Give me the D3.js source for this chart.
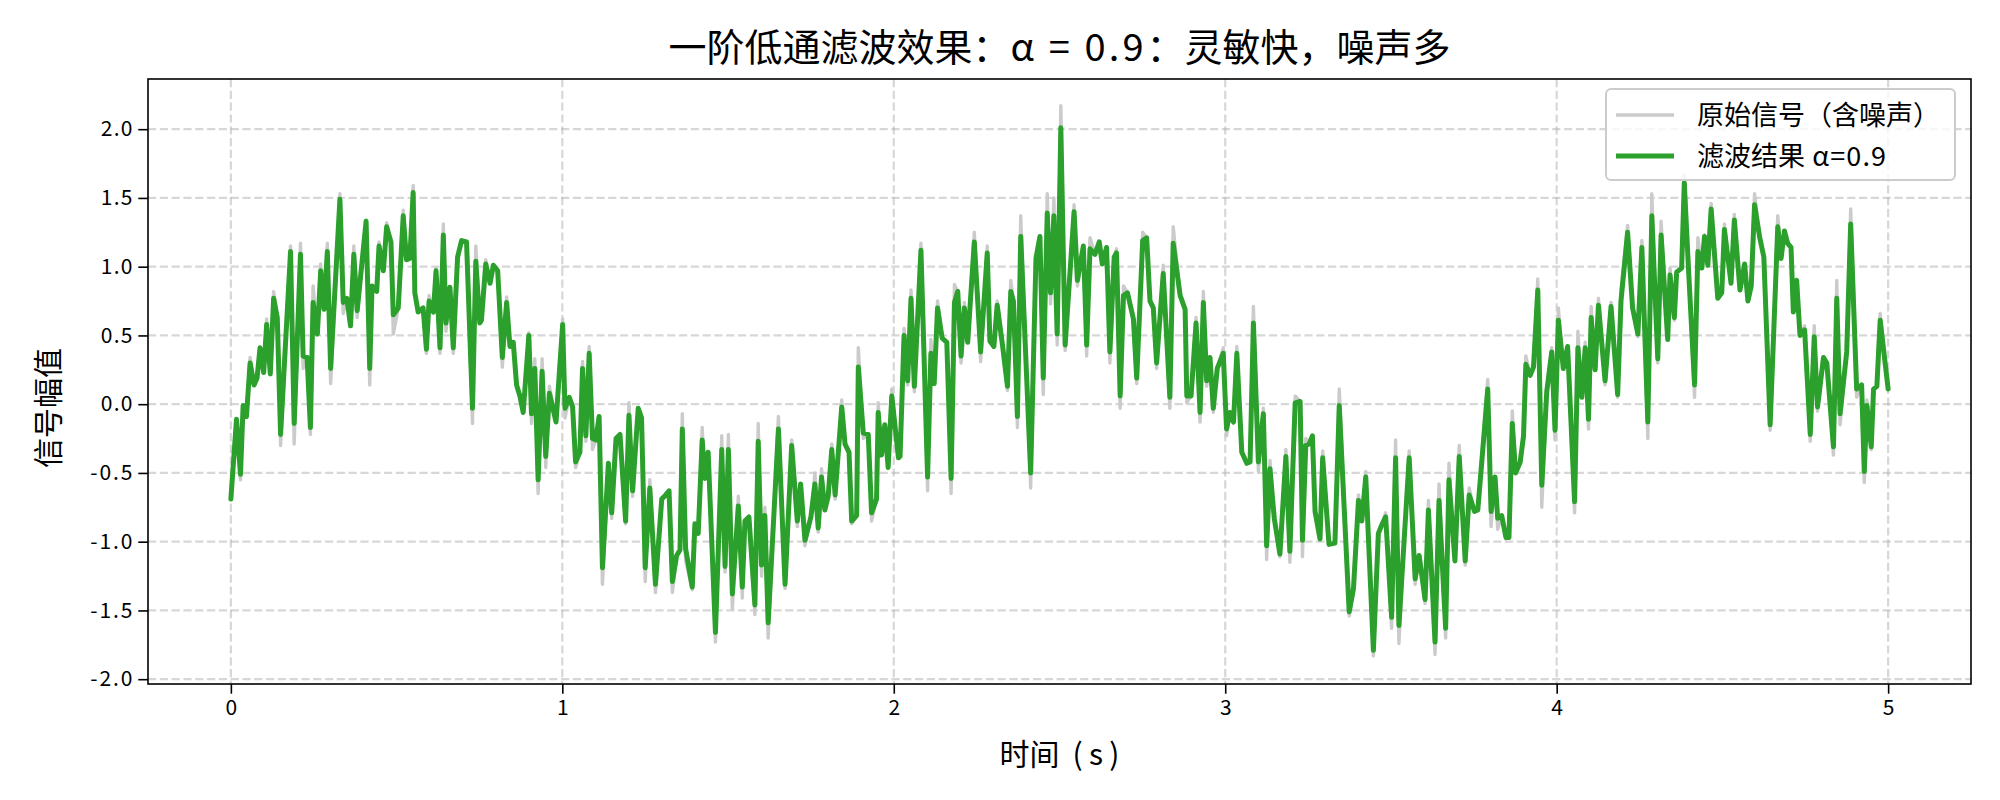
<!DOCTYPE html>
<html><head><meta charset="utf-8">
<script src="https://cdn.jsdelivr.net/npm/d3@7"></script>
<style>
body{margin:0;background:#fff}
svg{display:block}
text{font-family:"Noto Sans CJK SC","Noto Sans",sans-serif;fill:#000}
</style>
</head><body>
<svg id="chart" width="2000" height="800"></svg>
<script>
// ---- data ----
const time = [
0.000,0.017,0.029,0.037,0.047,0.058,0.070,0.079,0.088,0.099,0.108,0.119,0.129,0.140,0.150,0.180,0.191,0.210,0.218,0.230,0.240,0.248,0.261,0.271,0.281,0.291,0.301,0.329,0.339,0.350,0.361,0.371,0.381,
0.408,0.419,0.426,0.440,0.447,0.460,0.470,0.483,0.490,0.505,0.520,0.530,0.540,0.550,0.555,0.565,0.580,0.590,0.598,0.611,0.619,0.631,0.641,0.649,0.661,0.671,0.684,0.696,0.711,0.729,0.739,0.751,0.756,0.769,0.782,0.792,0.805,0.819,
0.832,0.842,0.852,0.862,0.872,0.882,0.899,0.907,0.917,0.927,0.939,0.950,0.961,0.981,1.001,1.008,1.021,1.031,1.040,1.053,1.061,1.071,1.081,1.091,1.101,1.111,1.121,1.139,1.149,1.162,1.174,1.191,1.201,1.212,1.229,1.239,
1.250,1.264,1.281,1.300,1.312,1.322,1.332,1.345,1.355,1.362,1.372,1.392,1.400,1.410,1.422,1.430,1.440,1.462,1.481,1.491,1.501,1.513,1.531,1.543,1.551,1.563,1.581,1.591,1.601,1.611,1.621,1.652,1.672,
1.692,1.709,1.719,1.732,1.750,1.762,1.772,1.782,1.792,1.802,1.813,1.823,1.843,1.853,1.865,1.873,1.888,1.893,1.908,1.923,1.933,1.948,1.953,1.963,1.973,1.983,1.994,2.014,2.019,2.031,2.042,2.052,2.062,2.082,
2.102,2.112,2.122,2.132,2.146,2.160,2.173,2.183,2.193,2.203,2.213,2.223,2.243,2.262,2.282,2.290,2.302,2.312,2.328,2.343,2.353,2.361,2.373,2.383,2.413,2.429,2.441,2.451,2.463,2.473,2.483,2.493,2.504,2.517,
2.544,2.554,2.572,2.582,2.592,2.607,2.620,2.629,2.642,2.652,2.665,2.672,2.683,2.693,2.705,2.723,2.733,2.751,2.763,2.773,2.783,2.793,2.813,2.833,2.843,2.864,2.879,2.884,2.897,2.912,2.924,2.934,
2.944,2.954,2.964,2.976,2.994,3.004,3.014,3.025,3.035,3.050,3.065,3.075,3.085,3.100,3.115,3.125,3.135,3.148,3.165,3.183,3.195,3.211,3.226,3.233,3.243,3.253,3.263,3.271,3.286,3.294,3.313,3.331,3.344,
3.374,3.387,3.402,3.412,3.424,3.447,3.462,3.472,3.484,3.502,3.514,3.524,3.540,3.555,3.573,3.585,3.603,3.613,3.633,3.645,3.665,3.675,3.693,3.706,3.724,3.736,3.752,3.762,3.774,
3.792,3.802,3.814,3.822,3.834,3.847,3.856,3.866,3.876,3.890,3.900,3.907,3.920,3.930,3.943,3.955,3.970,3.985,3.995,4.005,4.020,4.033,4.054,4.064,4.076,4.086,4.096,4.104,4.116,4.126,4.146,4.164,4.184,4.194,
4.214,4.229,4.245,4.257,4.275,4.287,4.305,4.315,4.335,4.342,4.355,4.362,4.377,4.385,4.398,4.416,4.426,4.438,4.446,4.456,4.466,4.486,4.498,4.506,4.526,4.536,4.553,4.567,4.577,4.587,4.597,4.612,4.625,
4.644,4.667,4.677,4.687,4.697,4.707,4.714,4.724,4.734,4.748,4.765,4.777,4.787,4.805,4.815,4.835,4.845,4.855,4.875,4.887,4.905,4.920,4.928,4.936,4.949,4.956,4.966,4.976,5.000
];
const filtered = [
-0.69,-0.11,-0.51,-0.01,-0.09,0.30,0.14,0.19,0.41,0.23,0.58,0.22,0.77,0.63,-0.22,1.11,-0.14,1.09,0.35,0.34,-0.17,0.74,0.51,0.97,0.69,1.11,0.26,1.49,0.74,0.77,0.57,1.09,0.68,
1.33,0.26,0.86,0.82,1.15,0.97,1.29,1.18,0.65,0.70,1.37,1.05,1.06,1.54,0.81,0.67,0.70,0.40,0.75,0.67,0.97,0.41,1.23,0.59,0.85,0.41,1.07,1.19,1.18,-0.03,1.04,0.59,0.61,1.02,0.88,1.01,0.97,0.34,
0.74,0.42,0.45,0.14,0.06,-0.06,0.50,-0.07,0.26,-0.55,0.24,-0.38,0.08,-0.13,0.58,-0.03,0.05,-0.02,-0.42,-0.35,0.26,-0.23,0.37,-0.25,-0.26,-0.09,-1.19,-0.43,-0.79,-0.25,-0.22,-0.85,-0.08,-0.63,-0.03,-0.10,
-1.19,-0.61,-1.31,-0.69,-0.66,-0.63,-1.29,-1.10,-1.06,-0.18,-1.05,-1.33,-0.87,-0.94,-0.26,-0.54,-0.35,-1.66,-0.33,-1.18,-0.33,-1.38,-0.74,-1.33,-0.85,-0.82,-1.46,-0.27,-1.17,-0.81,-1.59,-0.18,-1.31,
-0.30,-0.85,-0.58,-0.99,-0.82,-0.58,-0.90,-0.53,-0.77,-0.67,-0.33,-0.66,-0.02,-0.29,-0.35,-0.85,-0.81,0.27,-0.21,-0.22,-0.79,-0.69,-0.06,-0.37,-0.15,-0.46,0.06,-0.39,-0.38,0.50,0.17,0.77,0.13,1.12,
-0.53,0.37,0.15,0.70,0.48,0.45,-0.54,0.74,0.82,0.35,0.70,0.45,1.18,0.38,1.10,0.46,0.42,0.72,0.43,0.13,0.82,0.75,-0.09,1.22,-0.50,1.06,1.22,0.19,1.39,0.81,1.37,0.51,2.01,0.43,
1.40,0.90,1.15,0.43,1.13,1.09,1.18,1.02,1.14,0.38,1.07,1.10,0.06,0.79,0.81,0.62,0.19,1.19,1.21,0.75,0.70,0.30,0.95,0.05,1.17,0.79,0.69,0.06,0.06,0.59,-0.06,0.74,
0.17,0.34,-0.03,0.26,0.37,-0.18,-0.06,-0.13,0.37,-0.35,-0.43,-0.42,0.59,-0.42,-0.07,-1.03,-0.47,-0.83,-1.09,-0.38,-1.07,0.01,0.02,-0.99,-0.30,-0.29,-0.23,-0.78,-0.98,-0.39,-1.02,-1.01,-0.01,
-1.51,-1.34,-0.70,-0.85,-0.53,-1.79,-0.94,-0.88,-0.82,-1.55,-0.39,-1.61,-0.98,-0.39,-1.27,-1.10,-1.42,-0.77,-1.73,-0.70,-1.63,-0.55,-1.14,-0.38,-1.14,-0.66,-0.78,-0.77,-0.42,
0.11,-0.78,-0.53,-0.83,-0.81,-0.97,-0.97,-0.14,-0.50,-0.42,-0.23,0.29,0.21,0.27,0.83,-0.59,0.09,0.38,-0.19,0.61,0.26,0.42,-0.71,0.41,0.05,0.41,-0.11,0.63,0.25,0.72,0.17,0.71,0.07,0.75,
1.25,0.70,0.51,1.14,-0.13,1.37,0.33,1.23,0.47,0.94,0.63,0.96,0.99,1.61,0.97,0.14,1.11,0.99,1.22,1.01,1.42,0.77,0.81,1.27,0.88,1.34,0.83,1.02,0.75,0.86,1.45,1.22,1.07,
-0.15,1.29,1.06,1.26,1.17,1.14,0.67,0.90,0.50,0.54,-0.22,0.49,-0.02,0.34,0.30,-0.31,0.77,-0.07,0.38,1.31,0.11,0.14,-0.49,-0.01,-0.31,0.11,0.13,0.61,0.11
];
const raw = [
-0.69,-0.11,-0.55,-0.01,-0.09,0.34,0.14,0.19,0.41,0.23,0.62,0.22,0.82,0.63,-0.30,1.15,-0.29,1.17,0.26,0.34,-0.22,0.86,0.51,1.02,0.69,1.17,0.15,1.53,0.66,0.77,0.57,1.15,0.63,
1.34,0.14,0.86,0.82,1.18,0.97,1.32,1.18,0.51,0.70,1.41,1.05,1.06,1.59,0.81,0.67,0.70,0.37,0.79,0.67,0.99,0.37,1.31,0.53,0.85,0.37,1.07,1.19,1.18,-0.14,1.15,0.59,0.61,1.05,0.88,1.01,0.97,0.27,
0.78,0.42,0.45,0.14,0.06,-0.06,0.52,-0.14,0.33,-0.65,0.33,-0.46,0.13,-0.13,0.62,-0.10,0.05,-0.02,-0.46,-0.35,0.31,-0.27,0.42,-0.33,-0.26,-0.09,-1.31,-0.43,-0.83,-0.25,-0.22,-0.87,0.01,-0.67,-0.03,-0.10,
-1.29,-0.55,-1.37,-0.69,-0.66,-0.63,-1.37,-1.10,-1.06,-0.07,-1.14,-1.35,-0.87,-0.94,-0.17,-0.54,-0.35,-1.73,-0.23,-1.22,-0.22,-1.49,-0.67,-1.41,-0.85,-0.82,-1.53,-0.14,-1.25,-0.75,-1.70,-0.09,-1.34,
-0.26,-0.89,-0.58,-1.03,-0.82,-0.50,-0.93,-0.47,-0.77,-0.67,-0.29,-0.69,0.03,-0.29,-0.35,-0.87,-0.81,0.41,-0.25,-0.22,-0.85,-0.69,0.01,-0.37,-0.15,-0.46,0.11,-0.39,-0.38,0.55,0.14,0.83,0.09,1.17,
-0.63,0.47,0.15,0.75,0.48,0.45,-0.65,0.87,0.82,0.30,0.74,0.45,1.25,0.31,1.15,0.46,0.42,0.75,0.43,0.10,0.90,0.75,-0.17,1.37,-0.61,1.06,1.22,0.07,1.53,0.73,1.50,0.43,2.17,0.39,
1.45,0.86,1.15,0.35,1.21,1.09,1.18,1.02,1.14,0.30,1.07,1.13,-0.03,0.86,0.81,0.62,0.15,1.25,1.21,0.75,0.70,0.26,1.01,-0.03,1.29,0.79,0.69,0.01,0.06,0.63,-0.13,0.82,
0.13,0.34,-0.06,0.26,0.41,-0.23,-0.06,-0.13,0.42,-0.35,-0.43,-0.42,0.71,-0.49,-0.03,-1.13,-0.41,-0.83,-1.11,-0.33,-1.15,0.06,0.02,-1.11,-0.25,-0.29,-0.23,-0.78,-0.98,-0.34,-1.02,-1.01,0.11,
-1.54,-1.34,-0.66,-0.85,-0.49,-1.83,-0.94,-0.88,-0.79,-1.63,-0.26,-1.74,-0.98,-0.34,-1.31,-1.10,-1.45,-0.70,-1.82,-0.58,-1.70,-0.43,-1.14,-0.30,-1.17,-0.61,-0.78,-0.77,-0.38,
0.18,-0.89,-0.53,-0.91,-0.81,-0.98,-0.97,-0.05,-0.50,-0.42,-0.23,0.35,0.21,0.27,0.91,-0.75,0.09,0.41,-0.26,0.70,0.26,0.42,-0.79,0.53,0.05,0.45,-0.18,0.71,0.25,0.77,0.14,0.74,0.05,0.83,
1.30,0.70,0.49,1.19,-0.25,1.53,0.30,1.33,0.47,0.99,0.61,0.96,0.99,1.67,0.97,0.05,1.21,0.99,1.23,1.01,1.46,0.77,0.81,1.31,0.88,1.38,0.83,1.02,0.75,0.86,1.53,1.22,1.07,
-0.19,1.37,1.06,1.26,1.17,1.14,0.67,0.91,0.50,0.57,-0.27,0.57,-0.05,0.34,0.30,-0.37,0.90,-0.15,0.38,1.42,0.05,0.14,-0.57,0.03,-0.33,0.11,0.13,0.66,0.11
];
const xTicks = [0, 1, 2, 3, 4, 5];
const yTicks = [-2.0, -1.5, -1.0, -0.5, 0.0, 0.5, 1.0, 1.5, 2.0];
const titleParts = ["一阶低通滤波效果：", "α = 0.9", "：灵敏快，噪声多"];
const xLabelParts = ["时间", " (s)"];
const yLabelText = "信号幅值";
const legendLabels = [["原始信号（含噪声）", ""], ["滤波结果", " α=0.9"]];

// ---- layout ----
const svg = d3.select("#chart");
const M = {left: 148, right: 1971, top: 79, bottom: 684};
const x = d3.scaleLinear().domain([-0.25, 5.25]).range([M.left, M.right]);
const y = d3.scaleLinear().domain([-2.035, 2.365]).range([M.bottom, M.top]);

svg.append("rect").attr("width", 2000).attr("height", 800).attr("fill", "#fff");

// grid
const grid = svg.append("g");
grid.selectAll(".gx").data(xTicks).enter().append("line")
  .attr("x1", d => x(d)).attr("x2", d => x(d)).attr("y1", M.top).attr("y2", M.bottom)
  .attr("stroke", "#b0b0b0").attr("stroke-opacity", 0.5).attr("stroke-width", 2.2).attr("stroke-dasharray", "8.2,3.6");
grid.selectAll(".gy").data(yTicks).enter().append("line")
  .attr("x1", M.left).attr("x2", M.right).attr("y1", d => y(d)).attr("y2", d => y(d))
  .attr("stroke", "#b0b0b0").attr("stroke-opacity", 0.5).attr("stroke-width", 2.2).attr("stroke-dasharray", "8.2,3.6");

svg.append("clipPath").attr("id", "clip").append("rect")
  .attr("x", M.left).attr("y", M.top).attr("width", M.right - M.left).attr("height", M.bottom - M.top);

const plot = svg.append("g").attr("clip-path", "url(#clip)");
const rawData = time.map((t, i) => [t, raw[i]]);
const filtData = time.map((t, i) => [t, filtered[i]]);
const line = d3.line().x(d => x(d[0])).y(d => y(d[1]));

plot.append("path").attr("d", line(rawData)).attr("fill", "none")
  .attr("stroke", "#cbcbcb").attr("stroke-width", 3.4).attr("stroke-linejoin", "round").attr("stroke-linecap", "round");
plot.append("path").attr("d", line(filtData)).attr("fill", "none")
  .attr("stroke", "#2ca02c").attr("stroke-width", 5).attr("stroke-linejoin", "round").attr("stroke-linecap", "round");

// half-width (SimHei-like) text helper: each latin char gets 0.5em
function halfWidth(sel, fs) {
  sel.each(function () {
    const s = d3.select(this).text();
    d3.select(this).attr("textLength", s.length * 0.5 * fs).attr("lengthAdjust", "spacing");
  });
}

// axes
const TF = 21;
const xAxis = d3.axisBottom(x).tickValues(xTicks).tickFormat(d3.format("d")).tickSize(9.7).tickPadding(6);
const yAxis = d3.axisLeft(y).tickValues(yTicks).tickFormat(d => d3.format(".1f")(d).replace("−", "-")).tickSize(9.7).tickPadding(6);
const gx = svg.append("g").attr("transform", `translate(0,${M.bottom})`).call(xAxis);
const gy = svg.append("g").attr("transform", `translate(${M.left},0)`).call(yAxis);
[gx, gy].forEach(g => {
  g.select(".domain").remove();
  g.selectAll(".tick line").attr("stroke", "#000").attr("stroke-width", 1.6);
  g.selectAll(".tick text").attr("font-size", TF).attr("fill", "#000")
    .style("font-family", '"Noto Sans CJK SC", sans-serif');
});
halfWidth(gy.selectAll(".tick text"), TF);

// frame
svg.append("rect").attr("x", M.left).attr("y", M.top).attr("width", M.right - M.left).attr("height", M.bottom - M.top)
  .attr("fill", "none").attr("stroke", "#000").attr("stroke-width", 1.6);

// title
const TT = 38;
const title = svg.append("text").attr("x", (M.left + M.right) / 2).attr("y", 61).attr("text-anchor", "middle")
  .attr("font-size", TT);
titleParts.forEach((p, i) => {
  const ts = title.append("tspan").text(p);
  if (i === 1) ts.attr("textLength", p.length * 0.5 * TT).attr("lengthAdjust", "spacing");
});

// axis labels
const LF = 30;
const xl = svg.append("text").attr("x", (M.left + M.right) / 2).attr("y", 765).attr("text-anchor", "middle")
  .attr("font-size", LF).attr("xml:space", "preserve");
xLabelParts.forEach((p, i) => {
  const ts = xl.append("tspan").text(p);
  if (i === 1) ts.attr("textLength", p.length * 0.5 * LF).attr("lengthAdjust", "spacing");
});
svg.append("text").attr("transform", "translate(59,408) rotate(-90)").attr("text-anchor", "middle")
  .attr("font-size", LF).text(yLabelText);

// legend
const LGF = 27;
const lg = svg.append("g");
lg.append("rect").attr("x", 1606).attr("y", 89).attr("width", 349).attr("height", 91).attr("rx", 5)
  .attr("fill", "#fff").attr("fill-opacity", 0.8).attr("stroke", "#cccccc").attr("stroke-width", 2);
const lgColors = ["#cbcbcb", "#2ca02c"];
const lgWidths = [3.4, 5];
const lgY = [115, 156];
legendLabels.forEach((lab, i) => {
  lg.append("line").attr("x1", 1616).attr("x2", 1674).attr("y1", lgY[i]).attr("y2", lgY[i])
    .attr("stroke", lgColors[i]).attr("stroke-width", lgWidths[i]);
  const t = lg.append("text").attr("x", 1697).attr("y", lgY[i]).attr("dy", "0.36em").attr("font-size", LGF)
    .attr("xml:space", "preserve");
  t.append("tspan").text(lab[0]);
  if (lab[1]) t.append("tspan").text(lab[1]).attr("textLength", lab[1].length * 0.5 * LGF).attr("lengthAdjust", "spacing");
});
</script>
</body></html>
